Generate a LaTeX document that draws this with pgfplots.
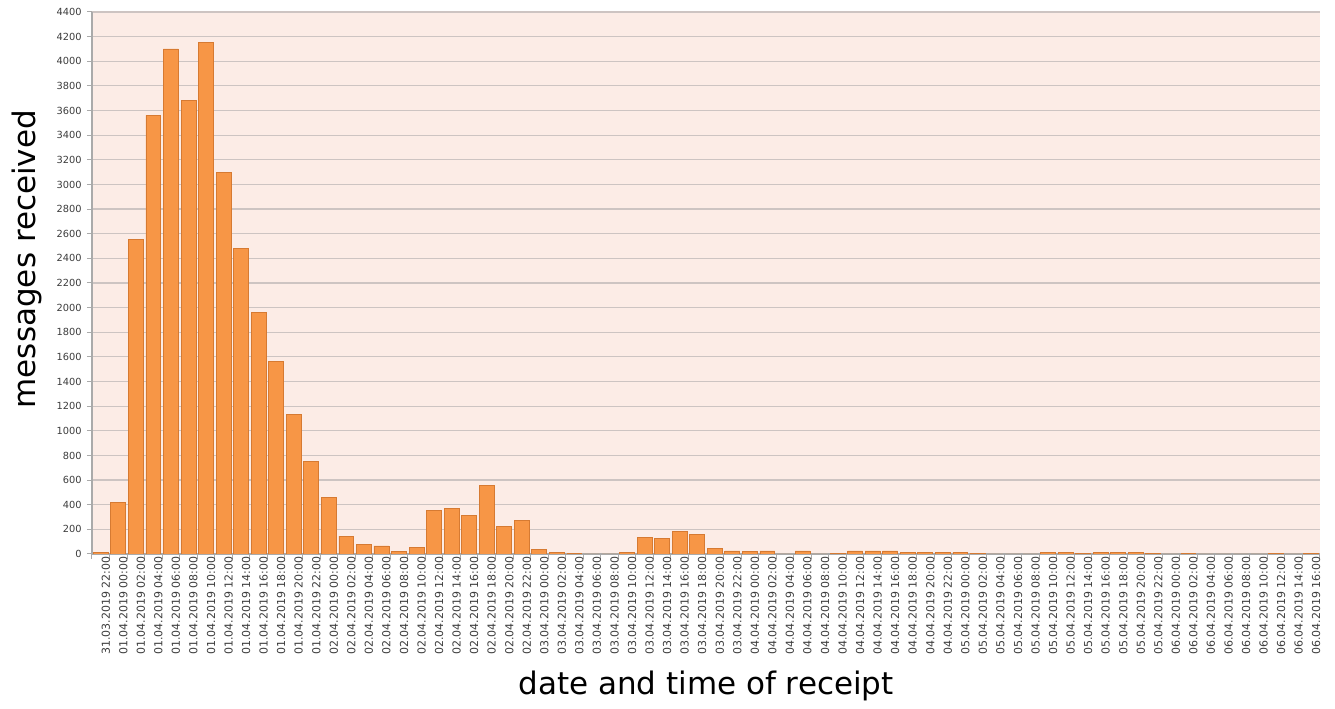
\documentclass[border=0pt]{standalone}
\usepackage{pgfplots}
\pgfplotsset{compat=1.18}
\usepackage{pgfplotstable}
\usepackage{fontspec}
\setmainfont{DejaVu Sans}
\definecolor{bgpink}{RGB}{252,236,230}
\definecolor{barfill}{RGB}{247,150,70}
\definecolor{baredge}{RGB}{214,122,50}
\definecolor{gridc}{RGB}{205,196,194}
\definecolor{axc}{RGB}{170,170,170}
\definecolor{txt}{RGB}{60,60,60}
\pgfplotstableread{
x y
0 15
1 420
2 2550
3 3560
4 4100
5 3680
6 4150
7 3100
8 2480
9 1960
10 1560
11 1130
12 750
13 460
14 145
15 75
16 65
17 20
18 50
19 350
20 370
21 310
22 555
23 220
24 270
25 35
26 10
27 5
28 0
29 0
30 15
31 135
32 125
33 185
34 155
35 45
36 25
37 20
38 25
39 0
40 25
41 0
42 5
43 25
44 25
45 25
46 10
47 10
48 10
49 15
50 5
51 0
52 0
53 0
54 10
55 10
56 5
57 10
58 15
59 10
60 5
61 0
62 5
63 0
64 0
65 0
66 0
67 5
68 0
69 5
}\datatable
\begin{document}
\begin{tikzpicture}
\path (-46pt,-73.5pt) rectangle (621.5pt,277pt);
\begin{axis}[
  scale only axis,
  width=614pt, height=271pt,
  xmin=-0.5, xmax=69.5,
  ymin=0, ymax=4400,
  ytick distance=200,
  minor ytick={0,200,...,4400},
  axis background/.style={fill=bgpink},
  axis x line=bottom, axis y line=left,
  axis line style={-, draw=axc, line width=0.6pt},
  ymajorgrids, grid style={draw=gridc, line width=0.6pt},
  xtick=data,
  minor xtick={-0.5,0.5,...,69.5},
  tick align=outside,
  major tick length=0pt,
  minor tick length=2.5pt,
  tick style={draw=axc, line width=0.5pt},
  /pgf/number format/1000 sep={},
  /pgf/number format/assume math mode=true,
  yticklabel style={font=\fontsize{4.9}{5}\selectfont, text=txt, inner sep=1pt, xshift=-4pt},
  xticklabel style={rotate=90, anchor=east, font=\fontsize{5.5}{5.6}\selectfont, text=txt, inner sep=1pt, yshift=-2.5pt},
  xticklabels={31.03.2019 22:00,
01.04.2019 00:00,01.04.2019 02:00,01.04.2019 04:00,01.04.2019 06:00,01.04.2019 08:00,01.04.2019 10:00,01.04.2019 12:00,01.04.2019 14:00,01.04.2019 16:00,01.04.2019 18:00,01.04.2019 20:00,01.04.2019 22:00,
02.04.2019 00:00,02.04.2019 02:00,02.04.2019 04:00,02.04.2019 06:00,02.04.2019 08:00,02.04.2019 10:00,02.04.2019 12:00,02.04.2019 14:00,02.04.2019 16:00,02.04.2019 18:00,02.04.2019 20:00,02.04.2019 22:00,
03.04.2019 00:00,03.04.2019 02:00,03.04.2019 04:00,03.04.2019 06:00,03.04.2019 08:00,03.04.2019 10:00,03.04.2019 12:00,03.04.2019 14:00,03.04.2019 16:00,03.04.2019 18:00,03.04.2019 20:00,03.04.2019 22:00,
04.04.2019 00:00,04.04.2019 02:00,04.04.2019 04:00,04.04.2019 06:00,04.04.2019 08:00,04.04.2019 10:00,04.04.2019 12:00,04.04.2019 14:00,04.04.2019 16:00,04.04.2019 18:00,04.04.2019 20:00,04.04.2019 22:00,
05.04.2019 00:00,05.04.2019 02:00,05.04.2019 04:00,05.04.2019 06:00,05.04.2019 08:00,05.04.2019 10:00,05.04.2019 12:00,05.04.2019 14:00,05.04.2019 16:00,05.04.2019 18:00,05.04.2019 20:00,05.04.2019 22:00,
06.04.2019 00:00,06.04.2019 02:00,06.04.2019 04:00,06.04.2019 06:00,06.04.2019 08:00,06.04.2019 10:00,06.04.2019 12:00,06.04.2019 14:00,06.04.2019 16:00},
  xlabel={date and time of receipt},
  ylabel={messages received},
  xlabel style={at={(rel axis cs:0.5,0)}, anchor=base, yshift=-70.5pt, font=\fontsize{15.5}{16}\selectfont},
  ylabel style={at={(rel axis cs:0,0.544)}, anchor=base, yshift=28pt, font=\fontsize{15.5}{16}\selectfont},
]
\addplot[ybar, bar width=0.85, fill=barfill, draw=baredge, line width=0.4pt] table[x=x,y=y] {\datatable};
\end{axis}
\end{tikzpicture}
\end{document}
